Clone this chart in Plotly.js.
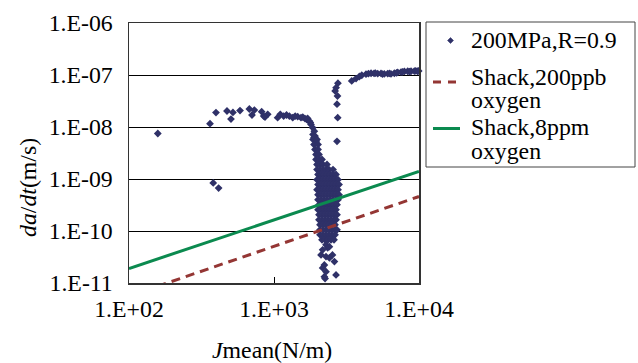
<!DOCTYPE html>
<html>
<head>
<meta charset="utf-8">
<script src="https://cdn.plot.ly/plotly-3.0.1.min.js"></script>
</head>
<body style="margin:0;background:#fff">
<div id="chart" style="width:638px;height:363px"></div>
<script>
// ---- Data ----
// Sparse measured points (J mean [N/m], da/dt [m/s])
var sparseX = [158, 362, 398, 474, 521, 505, 583, 676, 732, 705, 822, 849, 905, 867, 1059, 1105, 1166, 1220, 1276, 1346, 1400, 1457, 1535, 1580, 1636, 1680, 1707, 1751, 1780, 1799, 1849, 1897, 1918, 1950, 1858, 1888, 381, 415];
var sparseY = [7.5e-9, 1.16e-8, 1.89e-8, 2.03e-8, 1.91e-8, 1.42e-8, 2.07e-8, 2.22e-8, 2.12e-8, 1.70e-8, 1.97e-8, 1.62e-8, 1.75e-8, 1.55e-8, 1.51e-8, 1.75e-8, 1.62e-8, 1.70e-8, 1.62e-8, 1.51e-8, 1.62e-8, 1.58e-8, 1.51e-8, 1.55e-8, 1.45e-8, 1.40e-8, 1.46e-8, 1.30e-8, 1.22e-8, 1.12e-8, 9.7e-9, 8.3e-9, 6.7e-9, 5.3e-9, 7.2e-9, 6.3e-9, 8.4e-10, 6.7e-10];

// Column of points near J = 2.7e3 and upper plateau
var upperX = [2760, 2680, 2640, 2740, 2720, 2750, 2720, 3436, 3680, 3880, 4030, 4310, 4480, 4670, 4900, 5000, 5190, 5470, 5600, 5760, 6080, 6250, 6410, 6760, 7000, 7130, 7520, 7700, 7930, 8360, 8600, 8810, 9290, 9500, 9790, 9950];
var upperY = [6.95e-8, 5.7e-8, 4.93e-8, 3.95e-8, 2.75e-8, 1.51e-8, 5.3e-9, 7.7e-8, 8.55e-8, 9.35e-8, 9.9e-8, 1.035e-7, 1.06e-7, 1.08e-7, 1.07e-7, 1.09e-7, 1.06e-7, 1.07e-7, 1.04e-7, 1.05e-7, 1.06e-7, 1.07e-7, 1.05e-7, 1.08e-7, 1.10e-7, 1.12e-7, 1.14e-7, 1.15e-7, 1.17e-7, 1.18e-7, 1.16e-7, 1.18e-7, 1.19e-7, 1.2e-7, 1.18e-7, 1.2e-7];

// Dense cluster around J = 2.0e3 - 2.8e3, read row by row
var blobRowY = [5.76e-9, 4.61e-9, 3.69e-9, 2.96e-9, 2.37e-9, 1.90e-9, 1.52e-9, 1.22e-9, 9.7e-10, 7.8e-10, 6.24e-10, 5.0e-10, 4.0e-10, 3.21e-10, 2.57e-10, 2.06e-10, 1.645e-10, 1.32e-10, 1.055e-10, 8.45e-11, 6.77e-11];
var blobRowX = [
  [1858, 1980],
  [1888, 2012],
  [1918, 2012],
  [1949, 2043],
  [1949, 2043, 2143],
  [1980, 2076, 2177, 2320],
  [1980, 2076, 2177, 2284, 2395, 2553],
  [2012, 2110, 2212, 2320, 2434, 2553, 2677],
  [1980, 2076, 2177, 2284, 2395, 2512, 2635, 2764],
  [2012, 2110, 2212, 2320, 2434, 2553, 2677, 2808],
  [1980, 2076, 2177, 2284, 2395, 2512, 2635, 2764],
  [2012, 2110, 2212, 2320, 2434, 2553, 2677, 2808],
  [2012, 2110, 2212, 2320, 2434, 2553, 2677, 2764],
  [2043, 2143, 2248, 2357, 2473, 2594, 2720],
  [2012, 2110, 2212, 2320, 2434, 2553, 2677],
  [2043, 2143, 2248, 2357, 2473, 2594, 2720],
  [2043, 2143, 2248, 2357, 2473, 2594, 2677],
  [2076, 2177, 2284, 2395, 2512, 2635],
  [2076, 2177, 2284, 2395, 2512, 2635, 2720],
  [2076, 2177, 2284, 2395, 2512, 2635],
  [2143, 2248, 2357, 2473, 2594]
];

// Scattered tail below the cluster
var tailX = [2284, 2345, 2165, 2110, 2284, 2410, 2610, 2225, 2165, 2284, 2225, 2677, 2410, 2530, 2250];
var tailY = [5.42e-11, 4.74e-11, 4.34e-11, 3.47e-11, 3.22e-11, 3.04e-11, 2.58e-11, 2.22e-11, 1.95e-11, 1.65e-11, 1.32e-11, 1.43e-11, 5.0e-11, 3.47e-11, 1.22e-11];

// Shack relations
var shackX = [100, 10000];
var shack200ppbY = [5.6e-12, 4.6e-10];
var shack8ppmY = [1.9e-11, 1.4e-9];

// Series names and tick labels
var seriesNames = ["200MPa,R=0.9", "Shack,200ppb", "oxygen", "Shack,8ppm", "oxygen"];
var yTickVals = [1e-11, 1e-10, 1e-9, 1e-8, 1e-7, 1e-6];
var yTickText = ["1.E-11", "1.E-10", "1.E-09", "1.E-08", "1.E-07", "1.E-06"];
var xTickVals = [1e2, 1e3, 1e4];
var xTickText = ["1.E+02", "1.E+03", "1.E+04"];

// ---- Build measured series ----
var measX = [], measY = [];
sparseX.forEach(function (v, i) { measX.push(v); measY.push(sparseY[i]); });
upperX.forEach(function (v, i) { measX.push(v); measY.push(upperY[i]); });
blobRowY.forEach(function (yv, r) {
  blobRowX[r].forEach(function (xv) { measX.push(xv); measY.push(yv); });
});
tailX.forEach(function (v, i) { measX.push(v); measY.push(tailY[i]); });

var FONT = 'Liberation Serif';
var NAVY = '#2f3168', RED = '#943634', GREEN = '#0b8a4f';

var traces = [
  {
    x: measX, y: measY, type: 'scatter', mode: 'markers',
    name: seriesNames[0],
    marker: { symbol: 'diamond', size: 6, color: NAVY },
    cliponaxis: false
  },
  {
    x: shackX, y: shack200ppbY, type: 'scatter', mode: 'lines',
    name: seriesNames[1] + ' ' + seriesNames[2],
    line: { color: RED, width: 3, dash: '9px,6px' }
  },
  {
    x: shackX, y: shack8ppmY, type: 'scatter', mode: 'lines',
    name: seriesNames[3] + ' ' + seriesNames[4],
    line: { color: GREEN, width: 3 }
  }
];

// ---- Legend drawn in paper space (page-pixel helpers) ----
var L = 129, T = 23, W = 290, H = 260;
function px(xp) { return (xp - L) / W; }
function py(yp) { return (T + H - yp) / H; }

var shapes = [
  { type: 'rect', xref: 'paper', yref: 'paper', x0: px(426), x1: px(635), y0: py(22), y1: py(167),
    line: { color: '#444', width: 1 }, fillcolor: '#fff', layer: 'above' },
  { type: 'path', xref: 'paper', yref: 'paper',
    path: 'M ' + px(450.5) + ' ' + py(37.5) + ' L ' + px(453.5) + ' ' + py(40.5) + ' L ' + px(450.5) + ' ' + py(43.5) + ' L ' + px(447.5) + ' ' + py(40.5) + ' Z',
    fillcolor: NAVY, line: { color: NAVY, width: 0.5 }, layer: 'above' },
  { type: 'line', xref: 'paper', yref: 'paper', x0: px(433), x1: px(459), y0: py(82), y1: py(82),
    line: { color: RED, width: 3, dash: '8px,7px' }, layer: 'above' },
  { type: 'line', xref: 'paper', yref: 'paper', x0: px(433), x1: px(460), y0: py(128.5), y1: py(128.5),
    line: { color: GREEN, width: 3 }, layer: 'above' }
];

var legendTextY = [40, 77, 100, 127, 151];

function makeLayout(fs) {
  var f = { family: FONT, size: fs, color: '#000' };
  var annotations = seriesNames.map(function (t, i) {
    return { xref: 'paper', yref: 'paper', x: px(469), y: py(legendTextY[i]),
      xanchor: 'left', yanchor: 'middle', showarrow: false, text: t, font: f };
  });
  annotations.push({
    xref: 'paper', yref: 'paper', x: px(28), y: py(188),
    xanchor: 'center', yanchor: 'middle', textangle: -90, showarrow: false,
    text: '<i>da</i>/<i>dt</i>(m/s)', font: f
  });
  annotations.push({
    xref: 'paper', yref: 'paper', x: px(272), y: py(350),
    xanchor: 'center', yanchor: 'middle', showarrow: false,
    text: '<i>J</i>mean(N/m)', font: f
  });
  return {
    width: 638, height: 363,
    margin: { l: L, r: 638 - L - W, t: T, b: 363 - T - H },
    paper_bgcolor: '#ffffff', plot_bgcolor: '#ffffff',
    font: f,
    showlegend: false,
    xaxis: {
      type: 'log', range: [2, 4],
      tickmode: 'array', tickvals: xTickVals, ticktext: xTickText,
      ticks: 'inside', ticklen: 6, tickcolor: '#000', tickwidth: 1,
      showgrid: false, zeroline: false,
      showline: true, mirror: true, linecolor: '#333', linewidth: 1.5,
      ticklabelstandoff: 4, tickfont: f
    },
    yaxis: {
      type: 'log', range: [-11, -6],
      tickmode: 'array', tickvals: yTickVals, ticktext: yTickText,
      ticks: '', showgrid: true, gridcolor: '#000', gridwidth: 1,
      zeroline: false,
      showline: true, mirror: true, linecolor: '#333', linewidth: 1.5,
      ticklabelstandoff: 10, tickfont: f
    },
    shapes: shapes,
    annotations: annotations
  };
}

var cfg = { displayModeBar: false, staticPlot: true };
Plotly.newPlot('chart', traces, makeLayout(24), cfg);
// redraw later with a fresh font size key in case the serif face was not yet resolvable at first paint
[[60, 23.95], [250, 23.9], [600, 23.85], [1200, 23.8]].forEach(function (s) {
  setTimeout(function () { Plotly.react('chart', traces, makeLayout(s[1]), cfg); }, s[0]);
});
</script>
</body>
</html>
